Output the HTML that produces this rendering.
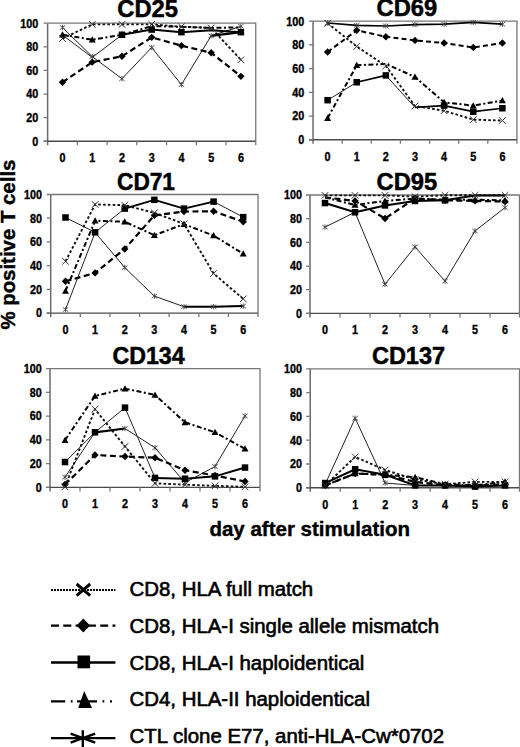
<!DOCTYPE html>
<html><head><meta charset="utf-8"><style>
html,body{margin:0;padding:0;background:#fff;}
body{width:520px;height:747px;overflow:hidden;font-family:"Liberation Sans",sans-serif;}
svg{display:block;}
</style></head><body>
<svg width="520" height="747" viewBox="0 0 520 747">
<rect width="520" height="747" fill="#fff"/>
<path d="M47.63 23.2H255.75V141.3" stroke="#777" stroke-width="1.3" fill="none"/>
<path d="M47.63 23.2V145.3" stroke="#6a6a6a" stroke-width="1.5" fill="none"/>
<path d="M43.63 141.3H255.75" stroke="#4a4a4a" stroke-width="1.4" fill="none"/>
<path d="M43.63 141.3H47.63M43.63 117.68H47.63M43.63 94.06H47.63M43.63 70.44H47.63M43.63 46.82H47.63M43.63 23.2H47.63M77.36 141.3V145.3M107.09 141.3V145.3M136.82 141.3V145.3M166.56 141.3V145.3M196.28 141.3V145.3M226.01 141.3V145.3M255.75 141.3V145.3" stroke="#777" stroke-width="1.3" fill="none"/>
<text transform="translate(38.33 145.6) scale(0.9 1)" text-anchor="end" font-size="12" font-weight="bold" stroke="#000" stroke-width="0.35" font-family="Liberation Sans, sans-serif">0</text>
<text transform="translate(38.33 121.98) scale(0.9 1)" text-anchor="end" font-size="12" font-weight="bold" stroke="#000" stroke-width="0.35" font-family="Liberation Sans, sans-serif">20</text>
<text transform="translate(38.33 98.36) scale(0.9 1)" text-anchor="end" font-size="12" font-weight="bold" stroke="#000" stroke-width="0.35" font-family="Liberation Sans, sans-serif">40</text>
<text transform="translate(38.33 74.74) scale(0.9 1)" text-anchor="end" font-size="12" font-weight="bold" stroke="#000" stroke-width="0.35" font-family="Liberation Sans, sans-serif">60</text>
<text transform="translate(38.33 51.12) scale(0.9 1)" text-anchor="end" font-size="12" font-weight="bold" stroke="#000" stroke-width="0.35" font-family="Liberation Sans, sans-serif">80</text>
<text transform="translate(38.33 27.5) scale(0.9 1)" text-anchor="end" font-size="12" font-weight="bold" stroke="#000" stroke-width="0.35" font-family="Liberation Sans, sans-serif">100</text>
<text transform="translate(62.5 162.1) scale(0.9 1)" text-anchor="middle" font-size="12" font-weight="bold" stroke="#000" stroke-width="0.35" font-family="Liberation Sans, sans-serif">0</text>
<text transform="translate(92.23 162.1) scale(0.9 1)" text-anchor="middle" font-size="12" font-weight="bold" stroke="#000" stroke-width="0.35" font-family="Liberation Sans, sans-serif">1</text>
<text transform="translate(121.96 162.1) scale(0.9 1)" text-anchor="middle" font-size="12" font-weight="bold" stroke="#000" stroke-width="0.35" font-family="Liberation Sans, sans-serif">2</text>
<text transform="translate(151.69 162.1) scale(0.9 1)" text-anchor="middle" font-size="12" font-weight="bold" stroke="#000" stroke-width="0.35" font-family="Liberation Sans, sans-serif">3</text>
<text transform="translate(181.42 162.1) scale(0.9 1)" text-anchor="middle" font-size="12" font-weight="bold" stroke="#000" stroke-width="0.35" font-family="Liberation Sans, sans-serif">4</text>
<text transform="translate(211.15 162.1) scale(0.9 1)" text-anchor="middle" font-size="12" font-weight="bold" stroke="#000" stroke-width="0.35" font-family="Liberation Sans, sans-serif">5</text>
<text transform="translate(240.88 162.1) scale(0.9 1)" text-anchor="middle" font-size="12" font-weight="bold" stroke="#000" stroke-width="0.35" font-family="Liberation Sans, sans-serif">6</text>
<text transform="translate(147.6 16.7) scale(0.99 1)" text-anchor="middle" font-size="24" font-weight="bold" stroke="#000" stroke-width="0.5" font-family="Liberation Sans, sans-serif">CD25</text>
<path d="M62.5 27.45L92.23 56.62L121.96 78.71L151.69 47.53L181.42 84.61L211.15 35.84L240.88 26.27" stroke="#222" stroke-width="1.0" fill="none" stroke-linejoin="round"/>
<path d="M62.5 34.77L92.23 39.73L121.96 34.77L151.69 26.15L181.42 26.74L211.15 27.92L240.88 27.33" stroke="#000" stroke-width="2.0" stroke-dasharray="5 2.5 2 2.5" fill="none" stroke-linejoin="round"/>
<path d="M62.5 35.01L92.23 57.45" stroke="#222" stroke-width="1" fill="none"/>
<path d="M92.23 57.45L121.96 34.77" stroke="#222" stroke-width="1" fill="none"/>
<path d="M121.96 34.77L151.69 29.58L181.42 32.18L211.15 30.29L240.88 32.18" stroke="#000" stroke-width="2.0" fill="none" stroke-linejoin="round"/>
<path d="M62.5 82.25L92.23 62.17L121.96 56.27L151.69 37.37L181.42 45.64L211.15 52.73L240.88 76.35" stroke="#000" stroke-width="2.2" stroke-dasharray="6 3.5" fill="none" stroke-linejoin="round"/>
<path d="M62.5 38.55L92.23 24.38L121.96 24.38L151.69 24.38L181.42 26.74L211.15 27.92L240.88 59.81" stroke="#111" stroke-width="1.9" stroke-dasharray="2.6 2.2" fill="none" stroke-linejoin="round"/>
<path d="M211.15 35.84L240.88 32.18" stroke="#000" stroke-width="2.2" fill="none"/>
<path d="M59.8 25.29L65.2 29.61M59.8 29.61L65.2 25.29M62.5 24.75L62.5 30.15" stroke="#444" stroke-width="0.9" fill="none"/>
<path d="M89.53 54.46L94.93 58.78M89.53 58.78L94.93 54.46M92.23 53.92L92.23 59.32" stroke="#444" stroke-width="0.9" fill="none"/>
<path d="M119.26 76.55L124.66 80.87M119.26 80.87L124.66 76.55M121.96 76.01L121.96 81.41" stroke="#444" stroke-width="0.9" fill="none"/>
<path d="M148.99 45.37L154.39 49.69M148.99 49.69L154.39 45.37M151.69 44.83L151.69 50.23" stroke="#444" stroke-width="0.9" fill="none"/>
<path d="M178.72 82.45L184.12 86.77M178.72 86.77L184.12 82.45M181.42 81.91L181.42 87.31" stroke="#444" stroke-width="0.9" fill="none"/>
<path d="M208.45 33.68L213.85 38M208.45 38L213.85 33.68M211.15 33.14L211.15 38.54" stroke="#444" stroke-width="0.9" fill="none"/>
<path d="M238.18 24.11L243.58 28.43M238.18 28.43L243.58 24.11M240.88 23.57L240.88 28.97" stroke="#444" stroke-width="0.9" fill="none"/>
<path d="M62.5 31.27L66 37.57L59 37.57Z" fill="#000"/>
<path d="M92.23 36.23L95.73 42.53L88.73 42.53Z" fill="#000"/>
<path d="M121.96 31.27L125.46 37.57L118.46 37.57Z" fill="#000"/>
<rect x="118.71" y="31.52" width="6.5" height="6.5" fill="#000"/>
<rect x="148.44" y="26.33" width="6.5" height="6.5" fill="#000"/>
<rect x="178.17" y="28.93" width="6.5" height="6.5" fill="#000"/>
<rect x="237.63" y="28.93" width="6.5" height="6.5" fill="#000"/>
<path d="M62.5 78.55L66.2 82.25L62.5 85.95L58.8 82.25Z" fill="#000"/>
<path d="M92.23 58.47L95.93 62.17L92.23 65.87L88.53 62.17Z" fill="#000"/>
<path d="M121.96 52.57L125.66 56.27L121.96 59.97L118.26 56.27Z" fill="#000"/>
<path d="M151.69 33.67L155.39 37.37L151.69 41.07L147.99 37.37Z" fill="#000"/>
<path d="M181.42 41.94L185.12 45.64L181.42 49.34L177.72 45.64Z" fill="#000"/>
<path d="M211.15 49.03L214.85 52.73L211.15 56.43L207.45 52.73Z" fill="#000"/>
<path d="M240.88 72.65L244.58 76.35L240.88 80.05L237.18 76.35Z" fill="#000"/>
<path d="M59.2 35.25L65.8 41.85M59.2 41.85L65.8 35.25" stroke="#333" stroke-width="1" fill="none"/>
<path d="M88.93 21.08L95.53 27.68M88.93 27.68L95.53 21.08" stroke="#333" stroke-width="1" fill="none"/>
<path d="M118.66 21.08L125.26 27.68M118.66 27.68L125.26 21.08" stroke="#333" stroke-width="1" fill="none"/>
<path d="M148.39 21.08L154.99 27.68M148.39 27.68L154.99 21.08" stroke="#333" stroke-width="1" fill="none"/>
<path d="M178.12 23.44L184.72 30.04M178.12 30.04L184.72 23.44" stroke="#333" stroke-width="1" fill="none"/>
<path d="M207.85 24.62L214.45 31.22M207.85 31.22L214.45 24.62" stroke="#333" stroke-width="1" fill="none"/>
<path d="M237.58 56.51L244.18 63.11M237.58 63.11L244.18 56.51" stroke="#333" stroke-width="1" fill="none"/>
<path d="M313.04 21.2H516.95V139.8" stroke="#777" stroke-width="1.3" fill="none"/>
<path d="M313.04 21.2V143.8" stroke="#6a6a6a" stroke-width="1.5" fill="none"/>
<path d="M309.04 139.8H516.95" stroke="#4a4a4a" stroke-width="1.4" fill="none"/>
<path d="M309.04 139.8H313.04M309.04 116.08H313.04M309.04 92.36H313.04M309.04 68.64H313.04M309.04 44.92H313.04M309.04 21.2H313.04M342.17 139.8V143.8M371.3 139.8V143.8M400.43 139.8V143.8M429.56 139.8V143.8M458.69 139.8V143.8M487.82 139.8V143.8M516.95 139.8V143.8" stroke="#777" stroke-width="1.3" fill="none"/>
<text transform="translate(304.14 144.1) scale(0.9 1)" text-anchor="end" font-size="12" font-weight="bold" stroke="#000" stroke-width="0.35" font-family="Liberation Sans, sans-serif">0</text>
<text transform="translate(304.14 120.38) scale(0.9 1)" text-anchor="end" font-size="12" font-weight="bold" stroke="#000" stroke-width="0.35" font-family="Liberation Sans, sans-serif">20</text>
<text transform="translate(304.14 96.66) scale(0.9 1)" text-anchor="end" font-size="12" font-weight="bold" stroke="#000" stroke-width="0.35" font-family="Liberation Sans, sans-serif">40</text>
<text transform="translate(304.14 72.94) scale(0.9 1)" text-anchor="end" font-size="12" font-weight="bold" stroke="#000" stroke-width="0.35" font-family="Liberation Sans, sans-serif">60</text>
<text transform="translate(304.14 49.22) scale(0.9 1)" text-anchor="end" font-size="12" font-weight="bold" stroke="#000" stroke-width="0.35" font-family="Liberation Sans, sans-serif">80</text>
<text transform="translate(304.14 25.5) scale(0.9 1)" text-anchor="end" font-size="12" font-weight="bold" stroke="#000" stroke-width="0.35" font-family="Liberation Sans, sans-serif">100</text>
<text transform="translate(327.6 160.6) scale(0.9 1)" text-anchor="middle" font-size="12" font-weight="bold" stroke="#000" stroke-width="0.35" font-family="Liberation Sans, sans-serif">0</text>
<text transform="translate(356.73 160.6) scale(0.9 1)" text-anchor="middle" font-size="12" font-weight="bold" stroke="#000" stroke-width="0.35" font-family="Liberation Sans, sans-serif">1</text>
<text transform="translate(385.86 160.6) scale(0.9 1)" text-anchor="middle" font-size="12" font-weight="bold" stroke="#000" stroke-width="0.35" font-family="Liberation Sans, sans-serif">2</text>
<text transform="translate(414.99 160.6) scale(0.9 1)" text-anchor="middle" font-size="12" font-weight="bold" stroke="#000" stroke-width="0.35" font-family="Liberation Sans, sans-serif">3</text>
<text transform="translate(444.12 160.6) scale(0.9 1)" text-anchor="middle" font-size="12" font-weight="bold" stroke="#000" stroke-width="0.35" font-family="Liberation Sans, sans-serif">4</text>
<text transform="translate(473.25 160.6) scale(0.9 1)" text-anchor="middle" font-size="12" font-weight="bold" stroke="#000" stroke-width="0.35" font-family="Liberation Sans, sans-serif">5</text>
<text transform="translate(502.38 160.6) scale(0.9 1)" text-anchor="middle" font-size="12" font-weight="bold" stroke="#000" stroke-width="0.35" font-family="Liberation Sans, sans-serif">6</text>
<text transform="translate(406.9 16.2) scale(0.99 1)" text-anchor="middle" font-size="24" font-weight="bold" stroke="#000" stroke-width="0.5" font-family="Liberation Sans, sans-serif">CD69</text>
<path d="M327.6 22.98L356.73 25.35L385.86 25.94L414.99 24.64L444.12 24.16L473.25 22.39L502.38 24.16" stroke="#000" stroke-width="1.6" fill="none" stroke-linejoin="round"/>
<path d="M327.6 118.1L356.73 65.32L385.86 63.9L414.99 76.94L444.12 102.32L473.25 105.64L502.38 100.54" stroke="#000" stroke-width="2.0" stroke-dasharray="5 2.5 2 2.5" fill="none" stroke-linejoin="round"/>
<path d="M327.6 100.19L356.73 82.28" stroke="#222" stroke-width="1" fill="none"/>
<path d="M385.86 75.4L414.99 107.42" stroke="#222" stroke-width="1" fill="none"/>
<path d="M356.73 82.28L385.86 75.4" stroke="#000" stroke-width="1.7" fill="none" stroke-linejoin="round"/>
<path d="M414.99 107.42L444.12 105.64L473.25 111.69L502.38 108.25" stroke="#000" stroke-width="1.7" fill="none" stroke-linejoin="round"/>
<path d="M327.6 52.04L356.73 30.33L385.86 36.74L414.99 40.41L444.12 43.02L473.25 47.41L502.38 43.02" stroke="#000" stroke-width="2.0" stroke-dasharray="5 3.2" fill="none" stroke-linejoin="round"/>
<path d="M327.6 23.22L356.73 46.46L385.86 65.91L414.99 106L444.12 110.74L473.25 119.64L502.38 120.59" stroke="#111" stroke-width="1.9" stroke-dasharray="2.6 2.2" fill="none" stroke-linejoin="round"/>
<path d="M324.9 20.82L330.3 25.14M324.9 25.14L330.3 20.82M327.6 20.28L327.6 25.68" stroke="#444" stroke-width="0.9" fill="none"/>
<path d="M354.03 23.19L359.43 27.51M354.03 27.51L359.43 23.19M356.73 22.65L356.73 28.05" stroke="#444" stroke-width="0.9" fill="none"/>
<path d="M383.16 23.78L388.56 28.1M383.16 28.1L388.56 23.78M385.86 23.24L385.86 28.64" stroke="#444" stroke-width="0.9" fill="none"/>
<path d="M412.29 22.48L417.69 26.8M412.29 26.8L417.69 22.48M414.99 21.94L414.99 27.34" stroke="#444" stroke-width="0.9" fill="none"/>
<path d="M441.42 22L446.82 26.32M441.42 26.32L446.82 22M444.12 21.46L444.12 26.86" stroke="#444" stroke-width="0.9" fill="none"/>
<path d="M470.55 20.23L475.95 24.55M470.55 24.55L475.95 20.23M473.25 19.69L473.25 25.09" stroke="#444" stroke-width="0.9" fill="none"/>
<path d="M499.68 22L505.08 26.32M499.68 26.32L505.08 22M502.38 21.46L502.38 26.86" stroke="#444" stroke-width="0.9" fill="none"/>
<path d="M327.6 114.6L331.1 120.9L324.1 120.9Z" fill="#000"/>
<path d="M356.73 61.82L360.23 68.12L353.23 68.12Z" fill="#000"/>
<path d="M414.99 73.44L418.49 79.74L411.49 79.74Z" fill="#000"/>
<path d="M444.12 98.82L447.62 105.12L440.62 105.12Z" fill="#000"/>
<path d="M473.25 102.14L476.75 108.44L469.75 108.44Z" fill="#000"/>
<path d="M502.38 97.04L505.88 103.34L498.88 103.34Z" fill="#000"/>
<rect x="324.35" y="96.94" width="6.5" height="6.5" fill="#000"/>
<rect x="353.48" y="79.03" width="6.5" height="6.5" fill="#000"/>
<rect x="382.61" y="72.15" width="6.5" height="6.5" fill="#000"/>
<rect x="440.87" y="102.39" width="6.5" height="6.5" fill="#000"/>
<rect x="470" y="108.44" width="6.5" height="6.5" fill="#000"/>
<rect x="499.13" y="105" width="6.5" height="6.5" fill="#000"/>
<path d="M327.6 48.34L331.3 52.04L327.6 55.74L323.9 52.04Z" fill="#000"/>
<path d="M356.73 26.63L360.43 30.33L356.73 34.03L353.03 30.33Z" fill="#000"/>
<path d="M385.86 33.04L389.56 36.74L385.86 40.44L382.16 36.74Z" fill="#000"/>
<path d="M414.99 36.71L418.69 40.41L414.99 44.11L411.29 40.41Z" fill="#000"/>
<path d="M444.12 39.32L447.82 43.02L444.12 46.72L440.42 43.02Z" fill="#000"/>
<path d="M473.25 43.71L476.95 47.41L473.25 51.11L469.55 47.41Z" fill="#000"/>
<path d="M502.38 39.32L506.08 43.02L502.38 46.72L498.68 43.02Z" fill="#000"/>
<path d="M324.3 19.92L330.9 26.52M324.3 26.52L330.9 19.92" stroke="#333" stroke-width="1" fill="none"/>
<path d="M353.43 43.16L360.03 49.76M353.43 49.76L360.03 43.16" stroke="#333" stroke-width="1" fill="none"/>
<path d="M382.56 62.61L389.16 69.21M382.56 69.21L389.16 62.61" stroke="#333" stroke-width="1" fill="none"/>
<path d="M411.69 102.7L418.29 109.3M411.69 109.3L418.29 102.7" stroke="#333" stroke-width="1" fill="none"/>
<path d="M440.82 107.44L447.42 114.04M440.82 114.04L447.42 107.44" stroke="#333" stroke-width="1" fill="none"/>
<path d="M469.95 116.34L476.55 122.94M469.95 122.94L476.55 116.34" stroke="#333" stroke-width="1" fill="none"/>
<path d="M499.08 117.29L505.68 123.89M499.08 123.89L505.68 117.29" stroke="#333" stroke-width="1" fill="none"/>
<path d="M50.69 194.5H258.03V313.1" stroke="#777" stroke-width="1.3" fill="none"/>
<path d="M50.69 194.5V317.1" stroke="#6a6a6a" stroke-width="1.5" fill="none"/>
<path d="M46.69 313.1H258.03" stroke="#4a4a4a" stroke-width="1.4" fill="none"/>
<path d="M46.69 313.1H50.69M46.69 289.38H50.69M46.69 265.66H50.69M46.69 241.94H50.69M46.69 218.22H50.69M46.69 194.5H50.69M80.31 313.1V317.1M109.93 313.1V317.1M139.55 313.1V317.1M169.17 313.1V317.1M198.79 313.1V317.1M228.41 313.1V317.1M258.03 313.1V317.1" stroke="#777" stroke-width="1.3" fill="none"/>
<text transform="translate(41.99 317.4) scale(0.9 1)" text-anchor="end" font-size="12" font-weight="bold" stroke="#000" stroke-width="0.35" font-family="Liberation Sans, sans-serif">0</text>
<text transform="translate(41.99 293.68) scale(0.9 1)" text-anchor="end" font-size="12" font-weight="bold" stroke="#000" stroke-width="0.35" font-family="Liberation Sans, sans-serif">20</text>
<text transform="translate(41.99 269.96) scale(0.9 1)" text-anchor="end" font-size="12" font-weight="bold" stroke="#000" stroke-width="0.35" font-family="Liberation Sans, sans-serif">40</text>
<text transform="translate(41.99 246.24) scale(0.9 1)" text-anchor="end" font-size="12" font-weight="bold" stroke="#000" stroke-width="0.35" font-family="Liberation Sans, sans-serif">60</text>
<text transform="translate(41.99 222.52) scale(0.9 1)" text-anchor="end" font-size="12" font-weight="bold" stroke="#000" stroke-width="0.35" font-family="Liberation Sans, sans-serif">80</text>
<text transform="translate(41.99 198.8) scale(0.9 1)" text-anchor="end" font-size="12" font-weight="bold" stroke="#000" stroke-width="0.35" font-family="Liberation Sans, sans-serif">100</text>
<text transform="translate(65.5 333.9) scale(0.9 1)" text-anchor="middle" font-size="12" font-weight="bold" stroke="#000" stroke-width="0.35" font-family="Liberation Sans, sans-serif">0</text>
<text transform="translate(95.12 333.9) scale(0.9 1)" text-anchor="middle" font-size="12" font-weight="bold" stroke="#000" stroke-width="0.35" font-family="Liberation Sans, sans-serif">1</text>
<text transform="translate(124.74 333.9) scale(0.9 1)" text-anchor="middle" font-size="12" font-weight="bold" stroke="#000" stroke-width="0.35" font-family="Liberation Sans, sans-serif">2</text>
<text transform="translate(154.36 333.9) scale(0.9 1)" text-anchor="middle" font-size="12" font-weight="bold" stroke="#000" stroke-width="0.35" font-family="Liberation Sans, sans-serif">3</text>
<text transform="translate(183.98 333.9) scale(0.9 1)" text-anchor="middle" font-size="12" font-weight="bold" stroke="#000" stroke-width="0.35" font-family="Liberation Sans, sans-serif">4</text>
<text transform="translate(213.6 333.9) scale(0.9 1)" text-anchor="middle" font-size="12" font-weight="bold" stroke="#000" stroke-width="0.35" font-family="Liberation Sans, sans-serif">5</text>
<text transform="translate(243.22 333.9) scale(0.9 1)" text-anchor="middle" font-size="12" font-weight="bold" stroke="#000" stroke-width="0.35" font-family="Liberation Sans, sans-serif">6</text>
<text transform="translate(146 190.3) scale(0.945 1)" text-anchor="middle" font-size="24" font-weight="bold" stroke="#000" stroke-width="0.5" font-family="Liberation Sans, sans-serif">CD71</text>
<path d="M65.5 309.54L95.12 232.45L124.74 267.56L154.36 296.14L183.98 306.7L213.6 306.7L243.22 306.1" stroke="#222" stroke-width="1.0" fill="none" stroke-linejoin="round"/>
<path d="M65.5 290.92L95.12 220.71L124.74 221.78L154.36 235.18L183.98 224.15L213.6 235.54L243.22 253.8" stroke="#000" stroke-width="2.0" stroke-dasharray="5 2.5 2 2.5" fill="none" stroke-linejoin="round"/>
<path d="M65.5 217.51L95.12 232.33" stroke="#222" stroke-width="1" fill="none"/>
<path d="M95.12 232.33L124.74 208.61" stroke="#222" stroke-width="1" fill="none"/>
<path d="M213.6 201.62L243.22 217.15" stroke="#222" stroke-width="1" fill="none"/>
<path d="M124.74 208.61L154.36 199.84L183.98 208.61L213.6 201.62" stroke="#000" stroke-width="2.0" fill="none" stroke-linejoin="round"/>
<path d="M65.5 281.32L95.12 272.89L124.74 248.94L154.36 215.37L183.98 211.58L213.6 211.22L243.22 221.78" stroke="#000" stroke-width="2.2" stroke-dasharray="6 3.5" fill="none" stroke-linejoin="round"/>
<path d="M65.5 261.27L95.12 204.46L124.74 205.17L154.36 212.88L183.98 223.79L213.6 273.49L243.22 298.87" stroke="#111" stroke-width="1.9" stroke-dasharray="2.6 2.2" fill="none" stroke-linejoin="round"/>
<path d="M183.98 306.7L213.6 306.7" stroke="#000" stroke-width="2.0" fill="none"/>
<path d="M213.6 306.7L243.22 306.1" stroke="#000" stroke-width="2.0" fill="none"/>
<path d="M62.8 307.38L68.2 311.7M62.8 311.7L68.2 307.38M65.5 306.84L65.5 312.24" stroke="#444" stroke-width="0.9" fill="none"/>
<path d="M92.42 230.29L97.82 234.61M92.42 234.61L97.82 230.29M95.12 229.75L95.12 235.15" stroke="#444" stroke-width="0.9" fill="none"/>
<path d="M122.04 265.4L127.44 269.72M122.04 269.72L127.44 265.4M124.74 264.86L124.74 270.26" stroke="#444" stroke-width="0.9" fill="none"/>
<path d="M151.66 293.98L157.06 298.3M151.66 298.3L157.06 293.98M154.36 293.44L154.36 298.84" stroke="#444" stroke-width="0.9" fill="none"/>
<path d="M181.28 304.54L186.68 308.86M181.28 308.86L186.68 304.54M183.98 304L183.98 309.4" stroke="#444" stroke-width="0.9" fill="none"/>
<path d="M210.9 304.54L216.3 308.86M210.9 308.86L216.3 304.54M213.6 304L213.6 309.4" stroke="#444" stroke-width="0.9" fill="none"/>
<path d="M240.52 303.94L245.92 308.26M240.52 308.26L245.92 303.94M243.22 303.4L243.22 308.8" stroke="#444" stroke-width="0.9" fill="none"/>
<path d="M65.5 287.42L69 293.72L62 293.72Z" fill="#000"/>
<path d="M95.12 217.21L98.62 223.51L91.62 223.51Z" fill="#000"/>
<path d="M124.74 218.28L128.24 224.58L121.24 224.58Z" fill="#000"/>
<path d="M154.36 231.68L157.86 237.98L150.86 237.98Z" fill="#000"/>
<path d="M183.98 220.65L187.48 226.95L180.48 226.95Z" fill="#000"/>
<path d="M213.6 232.04L217.1 238.34L210.1 238.34Z" fill="#000"/>
<path d="M243.22 250.3L246.72 256.6L239.72 256.6Z" fill="#000"/>
<rect x="62.25" y="214.26" width="6.5" height="6.5" fill="#000"/>
<rect x="91.87" y="229.08" width="6.5" height="6.5" fill="#000"/>
<rect x="121.49" y="205.36" width="6.5" height="6.5" fill="#000"/>
<rect x="151.11" y="196.59" width="6.5" height="6.5" fill="#000"/>
<rect x="180.73" y="205.36" width="6.5" height="6.5" fill="#000"/>
<rect x="210.35" y="198.37" width="6.5" height="6.5" fill="#000"/>
<rect x="239.97" y="213.9" width="6.5" height="6.5" fill="#000"/>
<path d="M65.5 277.62L69.2 281.32L65.5 285.02L61.8 281.32Z" fill="#000"/>
<path d="M95.12 269.19L98.82 272.89L95.12 276.59L91.42 272.89Z" fill="#000"/>
<path d="M124.74 245.24L128.44 248.94L124.74 252.64L121.04 248.94Z" fill="#000"/>
<path d="M154.36 211.67L158.06 215.37L154.36 219.07L150.66 215.37Z" fill="#000"/>
<path d="M183.98 207.88L187.68 211.58L183.98 215.28L180.28 211.58Z" fill="#000"/>
<path d="M213.6 207.52L217.3 211.22L213.6 214.92L209.9 211.22Z" fill="#000"/>
<path d="M243.22 218.08L246.92 221.78L243.22 225.48L239.52 221.78Z" fill="#000"/>
<path d="M62.2 257.97L68.8 264.57M62.2 264.57L68.8 257.97" stroke="#333" stroke-width="1" fill="none"/>
<path d="M91.82 201.16L98.42 207.76M91.82 207.76L98.42 201.16" stroke="#333" stroke-width="1" fill="none"/>
<path d="M121.44 201.87L128.04 208.47M121.44 208.47L128.04 201.87" stroke="#333" stroke-width="1" fill="none"/>
<path d="M151.06 209.58L157.66 216.18M151.06 216.18L157.66 209.58" stroke="#333" stroke-width="1" fill="none"/>
<path d="M180.68 220.49L187.28 227.09M180.68 227.09L187.28 220.49" stroke="#333" stroke-width="1" fill="none"/>
<path d="M210.3 270.19L216.9 276.79M210.3 276.79L216.9 270.19" stroke="#333" stroke-width="1" fill="none"/>
<path d="M239.92 295.57L246.52 302.17M239.92 302.17L246.52 295.57" stroke="#333" stroke-width="1" fill="none"/>
<path d="M310 195H519.5V313.4" stroke="#777" stroke-width="1.3" fill="none"/>
<path d="M310 195V317.4" stroke="#6a6a6a" stroke-width="1.5" fill="none"/>
<path d="M306 313.4H519.5" stroke="#4a4a4a" stroke-width="1.4" fill="none"/>
<path d="M306 313.4H310M306 289.72H310M306 266.04H310M306 242.36H310M306 218.68H310M306 195H310M340 313.4V317.4M370 313.4V317.4M400 313.4V317.4M430 313.4V317.4M460 313.4V317.4M490 313.4V317.4M519.5 313.4V317.4" stroke="#777" stroke-width="1.3" fill="none"/>
<text transform="translate(302 317.7) scale(0.9 1)" text-anchor="end" font-size="12" font-weight="bold" stroke="#000" stroke-width="0.35" font-family="Liberation Sans, sans-serif">0</text>
<text transform="translate(302 294.02) scale(0.9 1)" text-anchor="end" font-size="12" font-weight="bold" stroke="#000" stroke-width="0.35" font-family="Liberation Sans, sans-serif">20</text>
<text transform="translate(302 270.34) scale(0.9 1)" text-anchor="end" font-size="12" font-weight="bold" stroke="#000" stroke-width="0.35" font-family="Liberation Sans, sans-serif">40</text>
<text transform="translate(302 246.66) scale(0.9 1)" text-anchor="end" font-size="12" font-weight="bold" stroke="#000" stroke-width="0.35" font-family="Liberation Sans, sans-serif">60</text>
<text transform="translate(302 222.98) scale(0.9 1)" text-anchor="end" font-size="12" font-weight="bold" stroke="#000" stroke-width="0.35" font-family="Liberation Sans, sans-serif">80</text>
<text transform="translate(302 199.3) scale(0.9 1)" text-anchor="end" font-size="12" font-weight="bold" stroke="#000" stroke-width="0.35" font-family="Liberation Sans, sans-serif">100</text>
<text transform="translate(325 334.2) scale(0.9 1)" text-anchor="middle" font-size="12" font-weight="bold" stroke="#000" stroke-width="0.35" font-family="Liberation Sans, sans-serif">0</text>
<text transform="translate(355 334.2) scale(0.9 1)" text-anchor="middle" font-size="12" font-weight="bold" stroke="#000" stroke-width="0.35" font-family="Liberation Sans, sans-serif">1</text>
<text transform="translate(385 334.2) scale(0.9 1)" text-anchor="middle" font-size="12" font-weight="bold" stroke="#000" stroke-width="0.35" font-family="Liberation Sans, sans-serif">2</text>
<text transform="translate(415 334.2) scale(0.9 1)" text-anchor="middle" font-size="12" font-weight="bold" stroke="#000" stroke-width="0.35" font-family="Liberation Sans, sans-serif">3</text>
<text transform="translate(445 334.2) scale(0.9 1)" text-anchor="middle" font-size="12" font-weight="bold" stroke="#000" stroke-width="0.35" font-family="Liberation Sans, sans-serif">4</text>
<text transform="translate(475 334.2) scale(0.9 1)" text-anchor="middle" font-size="12" font-weight="bold" stroke="#000" stroke-width="0.35" font-family="Liberation Sans, sans-serif">5</text>
<text transform="translate(505 334.2) scale(0.9 1)" text-anchor="middle" font-size="12" font-weight="bold" stroke="#000" stroke-width="0.35" font-family="Liberation Sans, sans-serif">6</text>
<text transform="translate(406.9 190.4) scale(0.99 1)" text-anchor="middle" font-size="24" font-weight="bold" stroke="#000" stroke-width="0.5" font-family="Liberation Sans, sans-serif">CD95</text>
<path d="M325 227.09L355 212.29L385 284.27L415 246.86L445 281.08L475 230.99L505 207.55" stroke="#222" stroke-width="1.0" fill="none" stroke-linejoin="round"/>
<path d="M325 197.37L355 205.06L385 200.92L415 198.55L445 199.74L475 199.74L505 200.33" stroke="#000" stroke-width="2.0" stroke-dasharray="5 2.5 2 2.5" fill="none" stroke-linejoin="round"/>
<path d="M325 203.05L355 212.29L385 205.42L415 200.92L445 200.33L475 195.59L505 195.59" stroke="#000" stroke-width="2.0" fill="none" stroke-linejoin="round"/>
<path d="M325 197.37L355 200.92L385 218.44L415 198.55L445 200.33L475 200.92L505 201.51" stroke="#000" stroke-width="2.2" stroke-dasharray="6 3.5" fill="none" stroke-linejoin="round"/>
<path d="M325 195.36L355 195.36L385 195.36L415 196.66L445 195.24L475 195.24L505 195.24" stroke="#111" stroke-width="1.9" stroke-dasharray="2.6 2.2" fill="none" stroke-linejoin="round"/>
<path d="M322.3 224.93L327.7 229.25M322.3 229.25L327.7 224.93M325 224.39L325 229.79" stroke="#444" stroke-width="0.9" fill="none"/>
<path d="M352.3 210.13L357.7 214.45M352.3 214.45L357.7 210.13M355 209.59L355 214.99" stroke="#444" stroke-width="0.9" fill="none"/>
<path d="M382.3 282.11L387.7 286.43M382.3 286.43L387.7 282.11M385 281.57L385 286.97" stroke="#444" stroke-width="0.9" fill="none"/>
<path d="M412.3 244.7L417.7 249.02M412.3 249.02L417.7 244.7M415 244.16L415 249.56" stroke="#444" stroke-width="0.9" fill="none"/>
<path d="M442.3 278.92L447.7 283.24M442.3 283.24L447.7 278.92M445 278.38L445 283.78" stroke="#444" stroke-width="0.9" fill="none"/>
<path d="M472.3 228.83L477.7 233.15M472.3 233.15L477.7 228.83M475 228.29L475 233.69" stroke="#444" stroke-width="0.9" fill="none"/>
<path d="M502.3 205.39L507.7 209.71M502.3 209.71L507.7 205.39M505 204.85L505 210.25" stroke="#444" stroke-width="0.9" fill="none"/>
<path d="M355 201.56L358.5 207.86L351.5 207.86Z" fill="#000"/>
<path d="M385 197.42L388.5 203.72L381.5 203.72Z" fill="#000"/>
<path d="M415 195.05L418.5 201.35L411.5 201.35Z" fill="#000"/>
<path d="M445 196.24L448.5 202.54L441.5 202.54Z" fill="#000"/>
<path d="M475 196.24L478.5 202.54L471.5 202.54Z" fill="#000"/>
<path d="M505 196.83L508.5 203.13L501.5 203.13Z" fill="#000"/>
<rect x="321.75" y="199.8" width="6.5" height="6.5" fill="#000"/>
<rect x="351.75" y="209.04" width="6.5" height="6.5" fill="#000"/>
<rect x="381.75" y="202.17" width="6.5" height="6.5" fill="#000"/>
<rect x="411.75" y="197.67" width="6.5" height="6.5" fill="#000"/>
<rect x="441.75" y="197.08" width="6.5" height="6.5" fill="#000"/>
<path d="M355 197.22L358.7 200.92L355 204.62L351.3 200.92Z" fill="#000"/>
<path d="M385 214.74L388.7 218.44L385 222.14L381.3 218.44Z" fill="#000"/>
<path d="M415 194.85L418.7 198.55L415 202.25L411.3 198.55Z" fill="#000"/>
<path d="M445 196.63L448.7 200.33L445 204.03L441.3 200.33Z" fill="#000"/>
<path d="M475 197.22L478.7 200.92L475 204.62L471.3 200.92Z" fill="#000"/>
<path d="M505 197.81L508.7 201.51L505 205.21L501.3 201.51Z" fill="#000"/>
<path d="M321.7 192.06L328.3 198.66M321.7 198.66L328.3 192.06" stroke="#333" stroke-width="1" fill="none"/>
<path d="M351.7 192.06L358.3 198.66M351.7 198.66L358.3 192.06" stroke="#333" stroke-width="1" fill="none"/>
<path d="M381.7 192.06L388.3 198.66M381.7 198.66L388.3 192.06" stroke="#333" stroke-width="1" fill="none"/>
<path d="M411.7 193.36L418.3 199.96M411.7 199.96L418.3 193.36" stroke="#333" stroke-width="1" fill="none"/>
<path d="M441.7 191.94L448.3 198.54M441.7 198.54L448.3 191.94" stroke="#333" stroke-width="1" fill="none"/>
<path d="M471.7 191.94L478.3 198.54M471.7 198.54L478.3 191.94" stroke="#333" stroke-width="1" fill="none"/>
<path d="M501.7 191.94L508.3 198.54M501.7 198.54L508.3 191.94" stroke="#333" stroke-width="1" fill="none"/>
<path d="M50 368.7H260V487.4" stroke="#777" stroke-width="1.3" fill="none"/>
<path d="M50 368.7V491.4" stroke="#6a6a6a" stroke-width="1.5" fill="none"/>
<path d="M46 487.4H260" stroke="#4a4a4a" stroke-width="1.4" fill="none"/>
<path d="M46 487.4H50M46 463.66H50M46 439.92H50M46 416.18H50M46 392.44H50M46 368.7H50M80 487.4V491.4M110 487.4V491.4M140 487.4V491.4M170 487.4V491.4M200 487.4V491.4M230 487.4V491.4M260 487.4V491.4" stroke="#777" stroke-width="1.3" fill="none"/>
<text transform="translate(41.7 491.7) scale(0.9 1)" text-anchor="end" font-size="12" font-weight="bold" stroke="#000" stroke-width="0.35" font-family="Liberation Sans, sans-serif">0</text>
<text transform="translate(41.7 467.96) scale(0.9 1)" text-anchor="end" font-size="12" font-weight="bold" stroke="#000" stroke-width="0.35" font-family="Liberation Sans, sans-serif">20</text>
<text transform="translate(41.7 444.22) scale(0.9 1)" text-anchor="end" font-size="12" font-weight="bold" stroke="#000" stroke-width="0.35" font-family="Liberation Sans, sans-serif">40</text>
<text transform="translate(41.7 420.48) scale(0.9 1)" text-anchor="end" font-size="12" font-weight="bold" stroke="#000" stroke-width="0.35" font-family="Liberation Sans, sans-serif">60</text>
<text transform="translate(41.7 396.74) scale(0.9 1)" text-anchor="end" font-size="12" font-weight="bold" stroke="#000" stroke-width="0.35" font-family="Liberation Sans, sans-serif">80</text>
<text transform="translate(41.7 373) scale(0.9 1)" text-anchor="end" font-size="12" font-weight="bold" stroke="#000" stroke-width="0.35" font-family="Liberation Sans, sans-serif">100</text>
<text transform="translate(65 508.2) scale(0.9 1)" text-anchor="middle" font-size="12" font-weight="bold" stroke="#000" stroke-width="0.35" font-family="Liberation Sans, sans-serif">0</text>
<text transform="translate(95 508.2) scale(0.9 1)" text-anchor="middle" font-size="12" font-weight="bold" stroke="#000" stroke-width="0.35" font-family="Liberation Sans, sans-serif">1</text>
<text transform="translate(125 508.2) scale(0.9 1)" text-anchor="middle" font-size="12" font-weight="bold" stroke="#000" stroke-width="0.35" font-family="Liberation Sans, sans-serif">2</text>
<text transform="translate(155 508.2) scale(0.9 1)" text-anchor="middle" font-size="12" font-weight="bold" stroke="#000" stroke-width="0.35" font-family="Liberation Sans, sans-serif">3</text>
<text transform="translate(185 508.2) scale(0.9 1)" text-anchor="middle" font-size="12" font-weight="bold" stroke="#000" stroke-width="0.35" font-family="Liberation Sans, sans-serif">4</text>
<text transform="translate(215 508.2) scale(0.9 1)" text-anchor="middle" font-size="12" font-weight="bold" stroke="#000" stroke-width="0.35" font-family="Liberation Sans, sans-serif">5</text>
<text transform="translate(245 508.2) scale(0.9 1)" text-anchor="middle" font-size="12" font-weight="bold" stroke="#000" stroke-width="0.35" font-family="Liberation Sans, sans-serif">6</text>
<text transform="translate(148.5 364) scale(0.967 1)" text-anchor="middle" font-size="24" font-weight="bold" stroke="#000" stroke-width="0.5" font-family="Liberation Sans, sans-serif">CD134</text>
<path d="M65 477.19L95 432.32L125 428.52L155 447.75L185 482.65L215 466.51L245 415.94" stroke="#222" stroke-width="1.0" fill="none" stroke-linejoin="round"/>
<path d="M65 440.16L95 396L125 388.64L155 394.93L185 422.35L215 432.32L245 448.82" stroke="#000" stroke-width="2.0" stroke-dasharray="5 2.5 2 2.5" fill="none" stroke-linejoin="round"/>
<path d="M65 462L95 432.32" stroke="#222" stroke-width="1" fill="none"/>
<path d="M95 432.32L125 407.63" stroke="#222" stroke-width="1" fill="none"/>
<path d="M125 407.63L155 477.9" stroke="#222" stroke-width="1" fill="none"/>
<path d="M155 477.9L185 478.73L215 476.36L245 467.58" stroke="#000" stroke-width="2.0" fill="none" stroke-linejoin="round"/>
<path d="M65 484.55L95 454.99L125 456.54L155 457.72L185 470.19L215 475.53L245 481.46" stroke="#000" stroke-width="2.2" stroke-dasharray="6 3.5" fill="none" stroke-linejoin="round"/>
<path d="M65 486.81L95 409.18L125 446.45L155 483.36L185 484.67L215 485.86L245 486.81" stroke="#111" stroke-width="1.9" stroke-dasharray="2.6 2.2" fill="none" stroke-linejoin="round"/>
<path d="M95 432.32L125 428.52" stroke="#000" stroke-width="2.2" fill="none"/>
<path d="M62.3 475.03L67.7 479.35M62.3 479.35L67.7 475.03M65 474.49L65 479.89" stroke="#444" stroke-width="0.9" fill="none"/>
<path d="M92.3 430.16L97.7 434.48M92.3 434.48L97.7 430.16M95 429.62L95 435.02" stroke="#444" stroke-width="0.9" fill="none"/>
<path d="M122.3 426.36L127.7 430.68M122.3 430.68L127.7 426.36M125 425.82L125 431.22" stroke="#444" stroke-width="0.9" fill="none"/>
<path d="M152.3 445.59L157.7 449.91M152.3 449.91L157.7 445.59M155 445.05L155 450.45" stroke="#444" stroke-width="0.9" fill="none"/>
<path d="M182.3 480.49L187.7 484.81M182.3 484.81L187.7 480.49M185 479.95L185 485.35" stroke="#444" stroke-width="0.9" fill="none"/>
<path d="M212.3 464.35L217.7 468.67M212.3 468.67L217.7 464.35M215 463.81L215 469.21" stroke="#444" stroke-width="0.9" fill="none"/>
<path d="M242.3 413.78L247.7 418.1M242.3 418.1L247.7 413.78M245 413.24L245 418.64" stroke="#444" stroke-width="0.9" fill="none"/>
<path d="M65 436.66L68.5 442.96L61.5 442.96Z" fill="#000"/>
<path d="M95 392.5L98.5 398.8L91.5 398.8Z" fill="#000"/>
<path d="M125 385.14L128.5 391.44L121.5 391.44Z" fill="#000"/>
<path d="M155 391.43L158.5 397.73L151.5 397.73Z" fill="#000"/>
<path d="M185 418.85L188.5 425.15L181.5 425.15Z" fill="#000"/>
<path d="M215 428.82L218.5 435.12L211.5 435.12Z" fill="#000"/>
<path d="M245 445.32L248.5 451.62L241.5 451.62Z" fill="#000"/>
<rect x="61.75" y="458.75" width="6.5" height="6.5" fill="#000"/>
<rect x="91.75" y="429.07" width="6.5" height="6.5" fill="#000"/>
<rect x="121.75" y="404.38" width="6.5" height="6.5" fill="#000"/>
<rect x="151.75" y="474.65" width="6.5" height="6.5" fill="#000"/>
<rect x="181.75" y="475.48" width="6.5" height="6.5" fill="#000"/>
<rect x="211.75" y="473.11" width="6.5" height="6.5" fill="#000"/>
<rect x="241.75" y="464.33" width="6.5" height="6.5" fill="#000"/>
<path d="M65 480.85L68.7 484.55L65 488.25L61.3 484.55Z" fill="#000"/>
<path d="M95 451.29L98.7 454.99L95 458.69L91.3 454.99Z" fill="#000"/>
<path d="M125 452.84L128.7 456.54L125 460.24L121.3 456.54Z" fill="#000"/>
<path d="M155 454.02L158.7 457.72L155 461.42L151.3 457.72Z" fill="#000"/>
<path d="M185 466.49L188.7 470.19L185 473.89L181.3 470.19Z" fill="#000"/>
<path d="M215 471.83L218.7 475.53L215 479.23L211.3 475.53Z" fill="#000"/>
<path d="M245 477.76L248.7 481.46L245 485.16L241.3 481.46Z" fill="#000"/>
<path d="M61.7 483.51L68.3 490.11M61.7 490.11L68.3 483.51" stroke="#333" stroke-width="1" fill="none"/>
<path d="M91.7 405.88L98.3 412.48M91.7 412.48L98.3 405.88" stroke="#333" stroke-width="1" fill="none"/>
<path d="M121.7 443.15L128.3 449.75M121.7 449.75L128.3 443.15" stroke="#333" stroke-width="1" fill="none"/>
<path d="M151.7 480.06L158.3 486.66M151.7 486.66L158.3 480.06" stroke="#333" stroke-width="1" fill="none"/>
<path d="M181.7 481.37L188.3 487.97M181.7 487.97L188.3 481.37" stroke="#333" stroke-width="1" fill="none"/>
<path d="M211.7 482.56L218.3 489.16M211.7 489.16L218.3 482.56" stroke="#333" stroke-width="1" fill="none"/>
<path d="M241.7 483.51L248.3 490.11M241.7 490.11L248.3 483.51" stroke="#333" stroke-width="1" fill="none"/>
<path d="M310.21 368.8H519.5V487.8" stroke="#777" stroke-width="1.3" fill="none"/>
<path d="M310.21 368.8V491.8" stroke="#6a6a6a" stroke-width="1.5" fill="none"/>
<path d="M306.21 487.8H519.5" stroke="#4a4a4a" stroke-width="1.4" fill="none"/>
<path d="M306.21 487.8H310.21M306.21 464H310.21M306.21 440.2H310.21M306.21 416.4H310.21M306.21 392.6H310.21M306.21 368.8H310.21M340.18 487.8V491.8M370.15 487.8V491.8M400.12 487.8V491.8M430.09 487.8V491.8M460.06 487.8V491.8M490.03 487.8V491.8M519.5 487.8V491.8" stroke="#777" stroke-width="1.3" fill="none"/>
<text transform="translate(302.11 492.1) scale(0.9 1)" text-anchor="end" font-size="12" font-weight="bold" stroke="#000" stroke-width="0.35" font-family="Liberation Sans, sans-serif">0</text>
<text transform="translate(302.11 468.3) scale(0.9 1)" text-anchor="end" font-size="12" font-weight="bold" stroke="#000" stroke-width="0.35" font-family="Liberation Sans, sans-serif">20</text>
<text transform="translate(302.11 444.5) scale(0.9 1)" text-anchor="end" font-size="12" font-weight="bold" stroke="#000" stroke-width="0.35" font-family="Liberation Sans, sans-serif">40</text>
<text transform="translate(302.11 420.7) scale(0.9 1)" text-anchor="end" font-size="12" font-weight="bold" stroke="#000" stroke-width="0.35" font-family="Liberation Sans, sans-serif">60</text>
<text transform="translate(302.11 396.9) scale(0.9 1)" text-anchor="end" font-size="12" font-weight="bold" stroke="#000" stroke-width="0.35" font-family="Liberation Sans, sans-serif">80</text>
<text transform="translate(302.11 373.1) scale(0.9 1)" text-anchor="end" font-size="12" font-weight="bold" stroke="#000" stroke-width="0.35" font-family="Liberation Sans, sans-serif">100</text>
<text transform="translate(325.2 508.6) scale(0.9 1)" text-anchor="middle" font-size="12" font-weight="bold" stroke="#000" stroke-width="0.35" font-family="Liberation Sans, sans-serif">0</text>
<text transform="translate(355.17 508.6) scale(0.9 1)" text-anchor="middle" font-size="12" font-weight="bold" stroke="#000" stroke-width="0.35" font-family="Liberation Sans, sans-serif">1</text>
<text transform="translate(385.14 508.6) scale(0.9 1)" text-anchor="middle" font-size="12" font-weight="bold" stroke="#000" stroke-width="0.35" font-family="Liberation Sans, sans-serif">2</text>
<text transform="translate(415.11 508.6) scale(0.9 1)" text-anchor="middle" font-size="12" font-weight="bold" stroke="#000" stroke-width="0.35" font-family="Liberation Sans, sans-serif">3</text>
<text transform="translate(445.08 508.6) scale(0.9 1)" text-anchor="middle" font-size="12" font-weight="bold" stroke="#000" stroke-width="0.35" font-family="Liberation Sans, sans-serif">4</text>
<text transform="translate(475.05 508.6) scale(0.9 1)" text-anchor="middle" font-size="12" font-weight="bold" stroke="#000" stroke-width="0.35" font-family="Liberation Sans, sans-serif">5</text>
<text transform="translate(505.02 508.6) scale(0.9 1)" text-anchor="middle" font-size="12" font-weight="bold" stroke="#000" stroke-width="0.35" font-family="Liberation Sans, sans-serif">6</text>
<text transform="translate(408.5 364) scale(0.98 1)" text-anchor="middle" font-size="24" font-weight="bold" stroke="#000" stroke-width="0.5" font-family="Liberation Sans, sans-serif">CD137</text>
<path d="M325.2 484.23L355.17 418.19L385.14 483.04L415.11 485.42L445.08 485.42L475.05 485.42L505.02 485.42" stroke="#222" stroke-width="1.0" fill="none" stroke-linejoin="round"/>
<path d="M325.2 485.42L355.17 473.52L385.14 474.71L415.11 477.21L445.08 484.23L475.05 485.42L505.02 481.85" stroke="#000" stroke-width="2.0" stroke-dasharray="5 2.5 2 2.5" fill="none" stroke-linejoin="round"/>
<path d="M325.2 483.04L355.17 469.24L385.14 474.71L415.11 485.42L445.08 485.42L475.05 486.61L505.02 485.42" stroke="#000" stroke-width="2.0" fill="none" stroke-linejoin="round"/>
<path d="M325.2 485.42L355.17 473.52L385.14 474.71L415.11 481.85L445.08 485.42L475.05 485.42L505.02 484.23" stroke="#000" stroke-width="2.2" stroke-dasharray="6 3.5" fill="none" stroke-linejoin="round"/>
<path d="M325.2 485.42L355.17 456.86L385.14 469.95L415.11 479.47L445.08 484.23L475.05 481.85L505.02 481.85" stroke="#111" stroke-width="1.9" stroke-dasharray="2.6 2.2" fill="none" stroke-linejoin="round"/>
<path d="M322.5 482.07L327.9 486.39M322.5 486.39L327.9 482.07M325.2 481.53L325.2 486.93" stroke="#444" stroke-width="0.9" fill="none"/>
<path d="M352.47 416.02L357.87 420.35M352.47 420.35L357.87 416.02M355.17 415.49L355.17 420.88" stroke="#444" stroke-width="0.9" fill="none"/>
<path d="M382.44 480.88L387.84 485.2M382.44 485.2L387.84 480.88M385.14 480.34L385.14 485.74" stroke="#444" stroke-width="0.9" fill="none"/>
<path d="M412.41 483.26L417.81 487.58M412.41 487.58L417.81 483.26M415.11 482.72L415.11 488.12" stroke="#444" stroke-width="0.9" fill="none"/>
<path d="M442.38 483.26L447.78 487.58M442.38 487.58L447.78 483.26M445.08 482.72L445.08 488.12" stroke="#444" stroke-width="0.9" fill="none"/>
<path d="M472.35 483.26L477.75 487.58M472.35 487.58L477.75 483.26M475.05 482.72L475.05 488.12" stroke="#444" stroke-width="0.9" fill="none"/>
<path d="M502.32 483.26L507.72 487.58M502.32 487.58L507.72 483.26M505.02 482.72L505.02 488.12" stroke="#444" stroke-width="0.9" fill="none"/>
<path d="M325.2 481.92L328.7 488.22L321.7 488.22Z" fill="#000"/>
<path d="M355.17 470.02L358.67 476.32L351.67 476.32Z" fill="#000"/>
<path d="M385.14 471.21L388.64 477.51L381.64 477.51Z" fill="#000"/>
<path d="M415.11 473.71L418.61 480.01L411.61 480.01Z" fill="#000"/>
<path d="M445.08 480.73L448.58 487.03L441.58 487.03Z" fill="#000"/>
<path d="M475.05 481.92L478.55 488.22L471.55 488.22Z" fill="#000"/>
<path d="M505.02 478.35L508.52 484.65L501.52 484.65Z" fill="#000"/>
<rect x="321.95" y="479.79" width="6.5" height="6.5" fill="#000"/>
<rect x="351.92" y="465.99" width="6.5" height="6.5" fill="#000"/>
<rect x="381.89" y="471.46" width="6.5" height="6.5" fill="#000"/>
<rect x="411.86" y="482.17" width="6.5" height="6.5" fill="#000"/>
<rect x="441.83" y="482.17" width="6.5" height="6.5" fill="#000"/>
<rect x="471.8" y="483.36" width="6.5" height="6.5" fill="#000"/>
<rect x="501.77" y="482.17" width="6.5" height="6.5" fill="#000"/>
<path d="M325.2 481.72L328.9 485.42L325.2 489.12L321.5 485.42Z" fill="#000"/>
<path d="M355.17 469.82L358.87 473.52L355.17 477.22L351.47 473.52Z" fill="#000"/>
<path d="M385.14 471.01L388.84 474.71L385.14 478.41L381.44 474.71Z" fill="#000"/>
<path d="M415.11 478.15L418.81 481.85L415.11 485.55L411.41 481.85Z" fill="#000"/>
<path d="M445.08 481.72L448.78 485.42L445.08 489.12L441.38 485.42Z" fill="#000"/>
<path d="M475.05 481.72L478.75 485.42L475.05 489.12L471.35 485.42Z" fill="#000"/>
<path d="M505.02 480.53L508.72 484.23L505.02 487.93L501.32 484.23Z" fill="#000"/>
<path d="M321.9 482.12L328.5 488.72M321.9 488.72L328.5 482.12" stroke="#333" stroke-width="1" fill="none"/>
<path d="M351.87 453.56L358.47 460.16M351.87 460.16L358.47 453.56" stroke="#333" stroke-width="1" fill="none"/>
<path d="M381.84 466.65L388.44 473.25M381.84 473.25L388.44 466.65" stroke="#333" stroke-width="1" fill="none"/>
<path d="M411.81 476.17L418.41 482.77M411.81 482.77L418.41 476.17" stroke="#333" stroke-width="1" fill="none"/>
<path d="M441.78 480.93L448.38 487.53M441.78 487.53L448.38 480.93" stroke="#333" stroke-width="1" fill="none"/>
<path d="M471.75 478.55L478.35 485.15M471.75 485.15L478.35 478.55" stroke="#333" stroke-width="1" fill="none"/>
<path d="M501.72 478.55L508.32 485.15M501.72 485.15L508.32 478.55" stroke="#333" stroke-width="1" fill="none"/>
<text transform="translate(15.3 329.6) rotate(-90)" x="0" y="0" font-size="20.4" font-weight="bold" stroke="#000" stroke-width="0.4" font-family="Liberation Sans, sans-serif">% positive T cells</text>
<text transform="translate(209.4 535.9) scale(1.006 1)" font-size="20.4" font-weight="bold" stroke="#000" stroke-width="0.4" font-family="Liberation Sans, sans-serif">day after stimulation</text>
<path d="M51.0 590H115.4" stroke="#000" stroke-width="2" stroke-dasharray="2 1" fill="none"/>
<path d="M76.6 584L90.2 595.6M76.6 595.6L90.2 584" stroke="#000" stroke-width="3" fill="none"/>
<text transform="translate(129.5 595.7) scale(1.047 1)" font-size="19.5" stroke="#000" stroke-width="0.6" font-family="Liberation Sans, sans-serif">CD8, HLA full match</text>
<path d="M51.0 625.6H115.4" stroke="#000" stroke-width="2.2" stroke-dasharray="8 4.3" fill="none"/>
<path d="M83.3 618.6L90 625.6L83.3 632.6L76.6 625.6Z" fill="#000"/>
<text transform="translate(129.5 632.8) scale(1.047 1)" font-size="19.5" stroke="#000" stroke-width="0.6" font-family="Liberation Sans, sans-serif">CD8, HLA-I single allele mismatch</text>
<path d="M51.0 662.5H115.4" stroke="#000" stroke-width="2.3" fill="none"/>
<rect x="77.5" y="655.5" width="12.6" height="12.8" fill="#000"/>
<text transform="translate(129.5 669.7) scale(1.047 1)" font-size="19.5" stroke="#000" stroke-width="0.6" font-family="Liberation Sans, sans-serif">CD8, HLA-I haploidentical</text>
<path d="M51 701.3H65.2M70.8 701.3H72.6M77 701.3H97M102.5 701.3H104.3M110 701.3H112" stroke="#000" stroke-width="2.2" fill="none"/>
<path d="M84.2 691L92 708L78.2 708Z" fill="#000"/>
<text transform="translate(129.5 706.2) scale(1.047 1)" font-size="19.5" stroke="#000" stroke-width="0.6" font-family="Liberation Sans, sans-serif">CD4, HLA-II haploidentical</text>
<path d="M51.0 738.1H115.4" stroke="#000" stroke-width="2.1" fill="none"/>
<path d="M70.6 733.6L82.8 738.1L95.2 733.6M70.6 742.6L82.8 738.1L95.2 742.6M82.8 730.2V747" stroke="#000" stroke-width="2.4" fill="none"/>
<text transform="translate(129.5 743.1) scale(1.047 1)" font-size="19.5" stroke="#000" stroke-width="0.6" font-family="Liberation Sans, sans-serif">CTL clone E77, anti-HLA-Cw*0702</text>
</svg>
</body></html>
